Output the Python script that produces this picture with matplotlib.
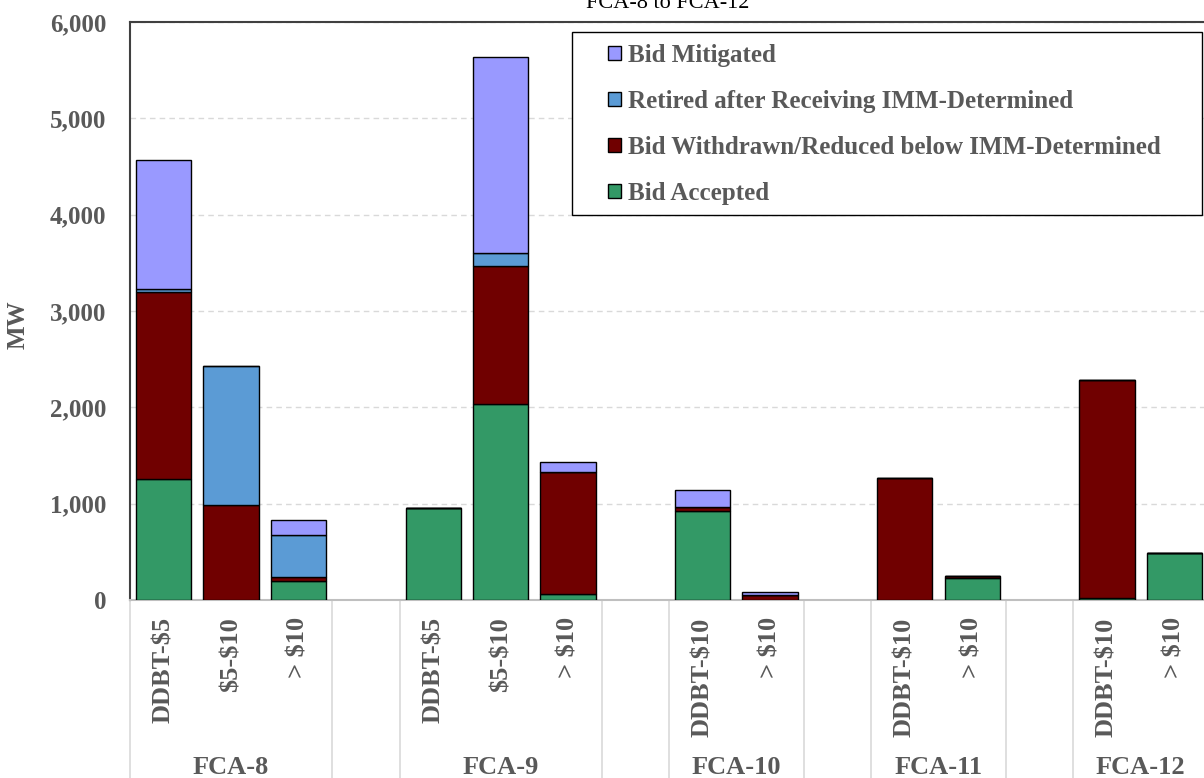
import matplotlib
matplotlib.use('Agg')
import matplotlib.pyplot as plt
from matplotlib.ticker import FuncFormatter
from matplotlib.patches import Patch, Rectangle

plt.rcParams['font.family'] = ['Liberation Serif', 'DejaVu Serif']

#========================= Data ===============================================
groups = ['FCA-8', 'FCA-9', 'FCA-10', 'FCA-11', 'FCA-12']
tiers = [['DDBT-$5', '$5-$10', '> $10'],
         ['DDBT-$5', '$5-$10', '> $10'],
         ['DDBT-$10', '> $10'],
         ['DDBT-$10', '> $10'],
         ['DDBT-$10', '> $10']]

# MW per bar, in the same order as the tiers above
accepted  = [1260,  0,   200,  960, 2030,   60,  920,  0,    0, 230,   20, 490]
withdrawn = [1940, 990,   35,    0, 1440, 1270,   45, 50, 1265,  20, 2265,   0]
retired   = [  30, 1440, 435,    0,  130,    0,    0,  5,    0,   0,    0,   0]
mitigated = [1340,  0,   165,    0, 2040,  100,  180, 25,    0,   0,    0,   0]

series = [('Bid Accepted', accepted, '#339966'),
          ('Bid Withdrawn/Reduced below IMM-Determined', withdrawn, '#700000'),
          ('Retired after Receiving IMM-Determined', retired, '#5B9BD5'),
          ('Bid Mitigated', mitigated, '#9999FF')]

grey = '#595959'
W, H = 1204, 778

#========================= Positions ==========================================
# one empty slot between auction groups
xpos, bounds = [], []
slot = 0
for g in tiers:
    start = slot
    for _ in g:
        xpos.append(slot)
        slot += 1
    bounds.append((start - 0.5, slot - 0.5))
    slot += 1

#========================= Plot ===============================================
fig = plt.figure(figsize=(W / 100, H / 100), dpi=100)
ax = fig.add_axes([130 / W, 178 / H, 1078 / W, 578 / H])

bottom = [0] * len(xpos)
for name, vals, col in series:
    ax.bar(xpos, vals, width=0.82, bottom=bottom, color=col,
           edgecolor='black', linewidth=1, zorder=3)
    bottom = [b + v for b, v in zip(bottom, vals)]

ax.set_xlim(-0.5, slot - 1.5)
ax.set_ylim(0, 6000)
ax.set_yticks(range(0, 6001, 1000))
ax.yaxis.set_major_formatter(FuncFormatter(lambda v, p: '{:,.0f}'.format(v)))
ax.tick_params(axis='y', length=0, pad=17, labelsize=18, labelcolor=grey)
for lab in ax.get_yticklabels():
    lab.set_fontweight('bold')
ax.set_xticks([])
ax.grid(axis='y', color='#D9D9D9', linestyle=(0, (4, 3)), linewidth=1, zorder=0)

for s in ['left', 'top', 'right']:
    ax.spines[s].set_color('#404040')
    ax.spines[s].set_linewidth(1.5)
ax.spines['bottom'].set_color('#BFBFBF')
ax.spines['bottom'].set_linewidth(1.5)

# category labels: tiers rotated, auctions below
xt = ax.get_xaxis_transform()
i = 0
for g, labs, (b0, b1) in zip(groups, tiers, bounds):
    for lab in labs:
        ax.text(xpos[i], -0.03, lab, transform=xt, rotation=90, ha='center',
                va='top', fontsize=19, fontweight='bold', color=grey,
                parse_math=False)
        i += 1
    ax.text((b0 + b1) / 2, -0.29, g, transform=xt, ha='center', va='center',
            fontsize=19, fontweight='bold', color=grey)

dividers = sorted(set([b for pair in bounds for b in pair] + [slot - 0.5]))
for d in dividers:
    ax.plot([d, d], [0, -0.35], transform=xt, color='#D9D9D9', linewidth=1.2,
            clip_on=False, zorder=1)

fig.text(18 / W, 1 - 325 / H, 'MW', rotation=90, ha='center', va='center',
         fontsize=18, fontweight='bold', color=grey)
fig.text(668 / W, 1 - 8 / H, 'FCA-8 to FCA-12', ha='center',
         va='baseline', fontsize=16, color='black')

# legend box drawn separately so the inner padding can be wider than tall
fig.patches.append(Rectangle((572 / W, 1 - 215 / H), 630 / W, 183 / H,
                             transform=fig.transFigure, facecolor='white',
                             edgecolor='black', linewidth=1, zorder=5))
handles = [Patch(facecolor=col, edgecolor='black', linewidth=1, label=name)
           for name, vals, col in series][::-1]
leg = fig.legend(handles=handles, loc='upper left',
                 bbox_to_anchor=(608 / W, 1 - 44 / H), ncol=1, frameon=False,
                 borderaxespad=0, borderpad=0, handlelength=0.5,
                 handleheight=0.5, handletextpad=0.3, labelspacing=0.92,
                 prop={'size': 18, 'weight': 'bold'})
leg.set_zorder(6)
for t in leg.get_texts():
    t.set_color(grey)

fig.savefig('out.png', dpi=100)
